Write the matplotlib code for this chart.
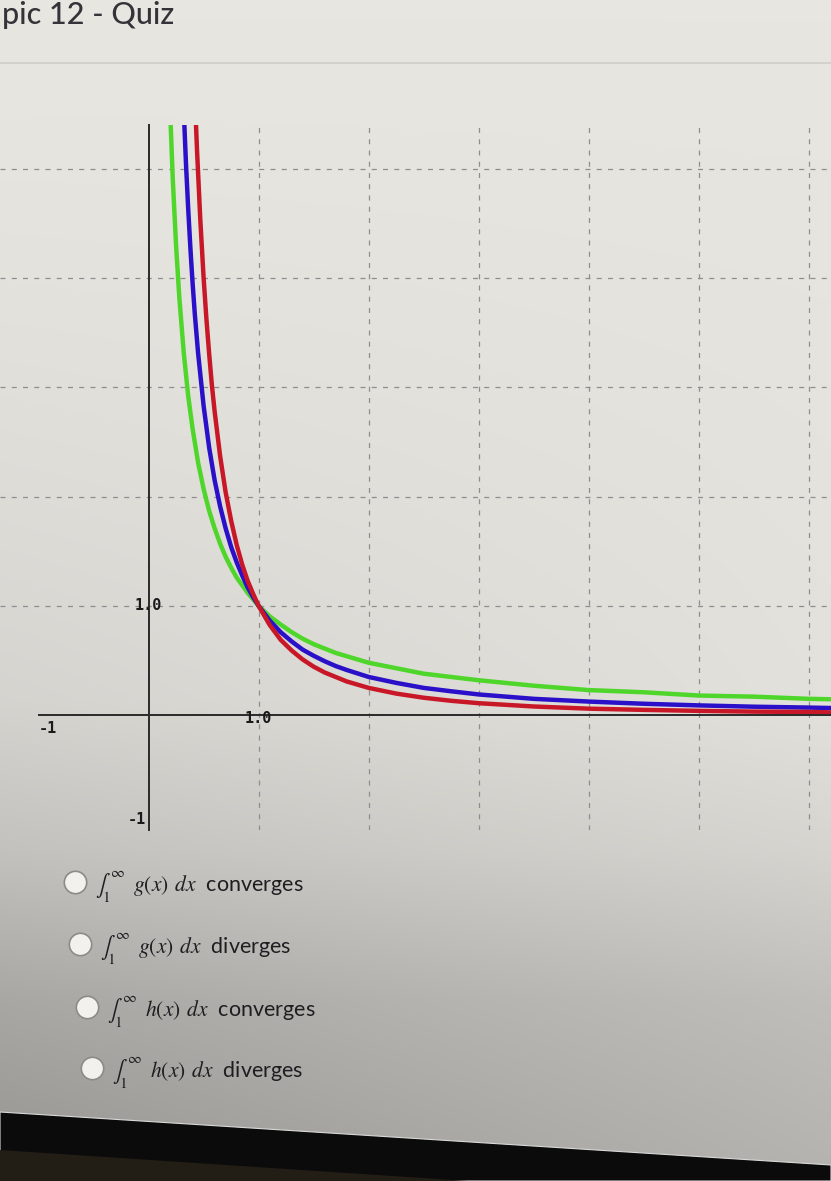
import numpy as np
import matplotlib.pyplot as plt
from matplotlib.patches import Polygon

# curves (x, y) - all pass through (1, 1)
green_x = [0.18, 0.2, 0.22, 0.25, 0.28, 0.32, 0.36, 0.4, 0.45, 0.5, 0.55, 0.6, 0.65, 0.7, 0.75,
           0.8, 0.85, 0.9, 0.95, 1.0, 1.1, 1.2, 1.3, 1.4, 1.5, 1.6, 1.7, 1.8, 2.0, 2.25,
           2.5, 2.75, 3.0, 3.5, 4.0, 4.5, 5.0, 5.5, 6.0, 6.5]
green_y = [6.05, 5.42, 4.90, 4.29, 3.81, 3.31, 2.92, 2.62, 2.31, 2.07, 1.87, 1.71, 1.57, 1.45, 1.35,
           1.26, 1.19, 1.12, 1.06, 1.0, 0.905, 0.83, 0.76, 0.70, 0.65, 0.61, 0.57, 0.54, 0.48, 0.43,
           0.38, 0.35, 0.32, 0.27, 0.23, 0.21, 0.18, 0.17, 0.15, 0.14]

blue_x = [0.28, 0.3, 0.32, 0.34, 0.36, 0.38, 0.4, 0.42, 0.45, 0.5, 0.55, 0.6, 0.65, 0.7, 0.75,
          0.8, 0.85, 0.9, 0.95, 1.0, 1.1, 1.2, 1.3, 1.4, 1.5, 1.6, 1.7, 1.8, 2.0, 2.25,
          2.5, 2.75, 3.0, 3.5, 4.0, 4.5, 5.0, 5.5, 6.0, 6.5]
blue_y = [6.75, 6.09, 5.52, 5.04, 4.63, 4.27, 3.95, 3.67, 3.31, 2.83, 2.45, 2.15, 1.91, 1.71, 1.54,
          1.40, 1.28, 1.17, 1.08, 1.0, 0.867, 0.76, 0.675, 0.60, 0.544, 0.494, 0.45, 0.414, 0.35, 0.296,
          0.25, 0.219, 0.19, 0.15, 0.125, 0.105, 0.09, 0.078, 0.07, 0.06]

red_x = [0.38, 0.4, 0.42, 0.44, 0.47, 0.5, 0.525, 0.55, 0.575, 0.6, 0.65, 0.7, 0.75, 0.8,
         0.85, 0.9, 0.95, 1.0, 1.1, 1.2, 1.3, 1.4, 1.5, 1.6, 1.7, 1.8, 2.0, 2.25,
         2.5, 2.75, 3.0, 3.5, 4.0, 4.5, 5.0, 5.5, 6.0, 6.5]
red_y = [6.93, 6.25, 5.67, 5.17, 4.53, 4.0, 3.63, 3.31, 3.02, 2.78, 2.37, 2.04, 1.78, 1.56,
         1.38, 1.23, 1.11, 1.0, 0.826, 0.69, 0.592, 0.51, 0.444, 0.391, 0.35, 0.309, 0.25, 0.198,
         0.16, 0.132, 0.11, 0.08, 0.06, 0.049, 0.04, 0.033, 0.03, 0.02]

curves = [(green_x, green_y, '#4fd62a'), (blue_x, blue_y, '#2a10c8'), (red_x, red_y, '#c81828')]

grid_x = [1, 2, 3, 4, 5, 6]
grid_y = [1, 2, 3, 4, 5]

title = "pic 12 - Quiz"
options = [r"$\int_1^{\infty}\;\;g(x)\;\,dx$  converges",
           r"$\int_1^{\infty}\;\;g(x)\;\,dx$  diverges",
           r"$\int_1^{\infty}\;\;h(x)\;\,dx$  converges",
           r"$\int_1^{\infty}\;\;h(x)\;\,dx$  diverges"]

W, H = 831, 1181
plt.rcParams['mathtext.fontset'] = 'stix'

fig = plt.figure(figsize=(W / 100, H / 100), dpi=100)

def px(x, y):
    return x / W, 1 - y / H

# photo background: light page, darker toward the bottom left
bg = fig.add_axes([0, 0, 1, 1])
rows = np.arange(H)
shade = np.interp(rows, [0, 700, 850, 1000, 1181], [232, 227, 214, 192, 180])
cols = np.arange(W) / W
img = shade[:, None] * (1 - 0.17 * (1 - cols[None, :]) * (rows[:, None] / H) ** 2)
tint = np.array([1.0, 0.992, 0.97])
rgb = np.clip(img[:, :, None] * tint[None, None, :] / 255, 0, 1)
bg.imshow(rgb, extent=[0, 1, 0, 1], aspect='auto', zorder=0)
bg.set_xlim(0, 1)
bg.set_ylim(0, 1)
bg.axis('off')

# header
bg.text(*px(2, 24), title, ha='left', va='baseline', fontsize=22,
        family='Lato', fontweight='medium', color='#343339')
bg.plot(*zip(px(0, 63), px(W, 63)), color='#cfcdc8', lw=1.2)

# radio options
circ_pos = [(75, 882), (80, 944), (87, 1007), (92, 1068)]
for (cx, cy), opt in zip(circ_pos, options):
    bg.scatter(*px(cx, cy), s=260, facecolor='#f2f1ee', edgecolor='#8c8b88', lw=1.2, zorder=3)
    bg.text(*px(cx + 20, cy + 4), opt, ha='left', va='center', fontsize=15.5,
            family='Lato', color='#1e1e22', zorder=3)

# monitor bezel at the bottom
bg.add_patch(Polygon([px(0, 1112), px(W, 1165), px(W, H), px(0, H)],
                     closed=True, facecolor='#0b0b0b', edgecolor='#d9d9d9', lw=0.8, zorder=4))
bg.add_patch(Polygon([px(0, 1150), px(W, 1205), px(W, H + 5), px(0, H + 5)],
                     closed=True, facecolor='#221d15', edgecolor='none', zorder=5))

# graph
ax = fig.add_axes([0, 1 - 830 / H, 1, 705 / H])
ax.set_facecolor('none')
ax.set_xlim(-1.35, 6.2)
ax.set_ylim(-1.05, 5.4)

ax.set_xticks(grid_x)
ax.set_yticks(grid_y)
ax.grid(True, color='#8e8e8e', linestyle=(0, (4, 5)), lw=0.9)
ax.tick_params(length=0, labelbottom=False, labelleft=False)

for s in ['top', 'right']:
    ax.spines[s].set_visible(False)
ax.spines['left'].set_position(('data', 0))
ax.spines['bottom'].set_position(('data', 0))
ax.spines['left'].set_bounds(-1.05, 5.4)
ax.spines['bottom'].set_bounds(-1, 6.2)
for s in ['left', 'bottom']:
    ax.spines[s].set_color('#2a2a2a')
    ax.spines[s].set_linewidth(1.4)

for xs, ys, c in curves:
    ax.plot(xs, ys, color=c, lw=3.2, solid_capstyle='butt')

lab = dict(family='DejaVu Sans Mono', fontweight='bold', fontsize=11, color='#1a1a1a')
ax.text(1, -0.03, "1.0", ha='center', va='center', **lab)
ax.text(0, 1, "1.0", ha='center', va='center', **lab)
ax.text(-1, -0.05, "-1", ha='left', va='top', **lab)
ax.text(-0.02, -0.95, "-1", ha='right', va='center', **lab)

fig.savefig('out.png', dpi=100)
